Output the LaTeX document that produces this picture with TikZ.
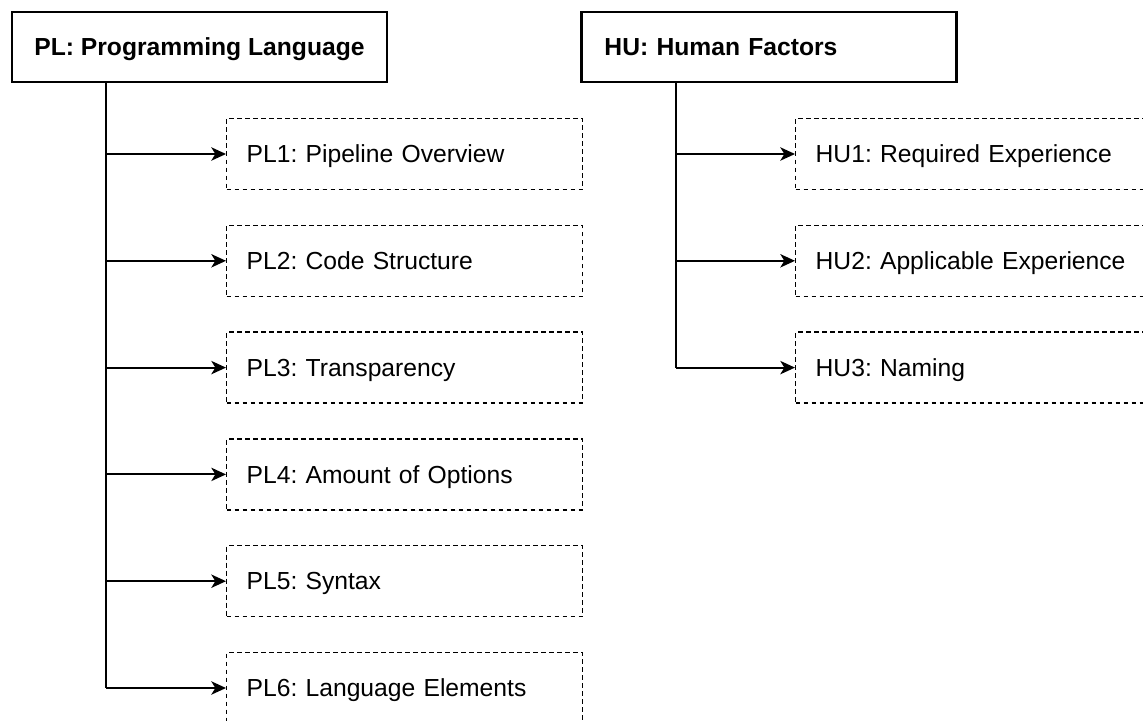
\documentclass[tikz,border=0pt]{standalone}
\usepackage{fontspec}
\setmainfont{Liberation Sans}
\usetikzlibrary{arrows.meta}
\frenchspacing
\begin{document}
\begin{tikzpicture}[x=0.75pt,y=-0.75pt,
  font=\fontsize{18.5pt}{22pt}\selectfont,
  head/.style={draw, line width=2.2pt, rectangle, minimum width=281.25pt, minimum height=52.5pt, font=\fontsize{18.5pt}{22pt}\selectfont\bfseries, inner sep=0pt, text depth=0pt},
  leaf/.style={draw, line width=1pt, dash pattern=on 3.6pt off 2.4pt, rectangle, minimum height=53.25pt, text width=237pt, align=left, inner xsep=15pt, inner ysep=0pt, text depth=0pt, anchor=west},
  trunk/.style={line width=1.7pt},
  branch/.style={line width=1.4pt, -{Stealth[length=11pt,width=10pt,inset=3pt]}}
]
\useasboundingbox (0,0) rectangle (1143,721);
\node[head] (PL) at (199.5,47) {PL: Programming Language};
\node[head, anchor=west, text width=246.75pt, align=left, inner xsep=17.25pt] (HU) at (580,47) {HU: Human Factors};

\node[leaf] (PL1) at (226,154) {PL1: Pipeline Overview};
\node[leaf] (PL2) at (226,260.8) {PL2: Code Structure};
\node[leaf] (PL3) at (226,367.6) {PL3: Transparency};
\node[leaf] (PL4) at (226,474.4) {PL4: Amount of Options};
\node[leaf] (PL5) at (226,581.2) {PL5: Syntax};
\node[leaf] (PL6) at (226,688) {PL6: Language Elements};

\node[leaf] (HU1) at (795,154) {HU1: Required Experience};
\node[leaf] (HU2) at (795,260.8) {HU2: Applicable Experience};
\node[leaf] (HU3) at (795,367.6) {HU3: Naming};

\coordinate (plx) at (106,0);
\coordinate (hux) at (676,0);

\draw[trunk] (PL.south -| plx) -- (plx |- PL6.west);
\foreach \n in {PL1,PL2,PL3,PL4,PL5,PL6}
  \draw[branch] (plx |- \n.west) -- (\n.west);

\draw[trunk] (HU.south -| hux) -- (hux |- HU3.west);
\foreach \n in {HU1,HU2,HU3}
  \draw[branch] (hux |- \n.west) -- (\n.west);
\end{tikzpicture}
\end{document}
